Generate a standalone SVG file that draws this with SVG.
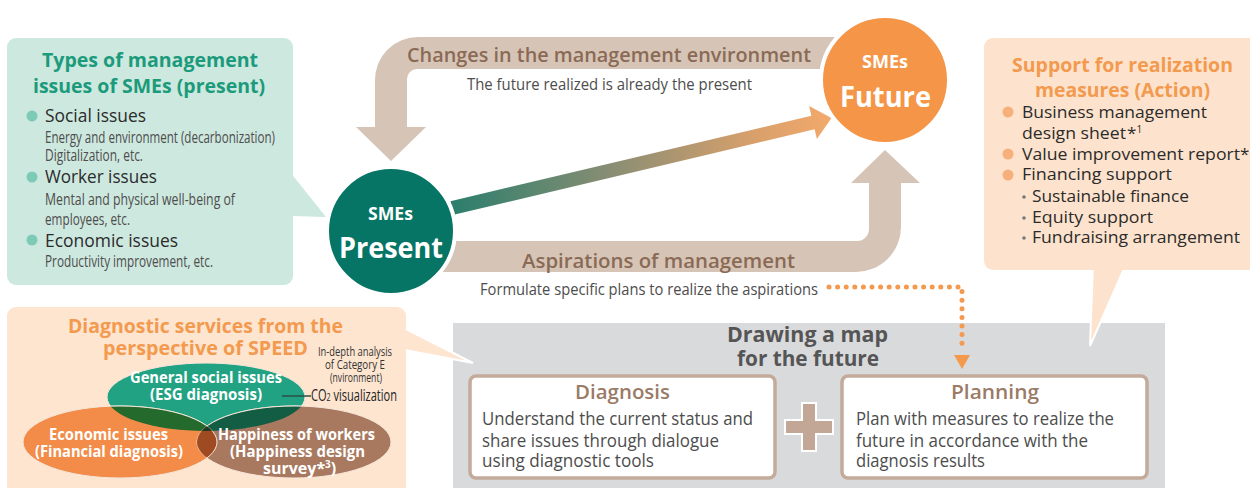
<svg xmlns="http://www.w3.org/2000/svg" width="1250" height="488" viewBox="0 0 1250 488">
<style>
text{font-family:"Open Sans","Noto Sans",sans-serif}
.b{font-weight:700}
.sb{font-weight:600}
.gt{fill:#1b9b7b}
.ot{fill:#f39a4f}
.br{fill:#8a6a55}
.dk{fill:#2b2b2b}
.gy{fill:#4d4d4d}
.wt{fill:#fff}
</style>
<defs>
<linearGradient id="grad" x1="450" y1="0" x2="832" y2="0" gradientUnits="userSpaceOnUse">
<stop offset="0" stop-color="#2a7e6d"/>
<stop offset="0.45" stop-color="#8f8f73"/>
<stop offset="0.8" stop-color="#d9a06b"/>
<stop offset="1" stop-color="#f3a96b"/>
</linearGradient>
<clipPath id="cG"><ellipse cx="206" cy="397" rx="99" ry="34"/></clipPath>
<clipPath id="cB"><ellipse cx="294" cy="442" rx="97" ry="36"/></clipPath>
</defs>

<!-- Left issues box -->
<g id="box-issues">
<polygon points="290,172 326,217 290,216" fill="#cde8df"/>
<rect x="7" y="38" width="286" height="247" rx="9" fill="#cde8df"/>
<text class="b gt" x="42" y="67" font-size="20" textLength="216" lengthAdjust="spacingAndGlyphs">Types of management</text>
<text class="b gt" x="33" y="93" font-size="20" textLength="232" lengthAdjust="spacingAndGlyphs">issues of SMEs (present)</text>
<g fill="#7dcbb6"><circle cx="32" cy="116" r="5.5"/><circle cx="32" cy="177" r="5.5"/><circle cx="32" cy="240" r="5.5"/></g>
<text class="dk" x="45" y="122" font-size="17.5" textLength="101" lengthAdjust="spacingAndGlyphs">Social issues</text>
<text class="gy" x="45" y="143" font-size="16.5" textLength="230" lengthAdjust="spacingAndGlyphs">Energy and environment (decarbonization)</text>
<text class="gy" x="45" y="161" font-size="16.5" textLength="98" lengthAdjust="spacingAndGlyphs">Digitalization, etc.</text>
<text class="dk" x="45" y="183" font-size="17.5" textLength="112" lengthAdjust="spacingAndGlyphs">Worker issues</text>
<text class="gy" x="45" y="205" font-size="16.5" textLength="190" lengthAdjust="spacingAndGlyphs">Mental and physical well-being of</text>
<text class="gy" x="45" y="225" font-size="16.5" textLength="85" lengthAdjust="spacingAndGlyphs">employees, etc.</text>
<text class="dk" x="45" y="247" font-size="17.5" textLength="133" lengthAdjust="spacingAndGlyphs">Economic issues</text>
<text class="gy" x="45" y="267" font-size="16.5" textLength="168" lengthAdjust="spacingAndGlyphs">Productivity improvement, etc.</text>
</g>

<!-- Gray map box -->
<g id="box-map">
<rect x="453" y="323" width="712" height="165" fill="#d9dadc"/>
<text class="b" fill="#555" x="727" y="342" font-size="20.5" textLength="161" lengthAdjust="spacingAndGlyphs">Drawing a map</text>
<text class="b" fill="#555" x="737" y="366" font-size="20.5" textLength="142" lengthAdjust="spacingAndGlyphs">for the future</text>
</g>

<g id="node-diagnosis">
<rect x="470" y="376" width="305" height="102" rx="6" fill="#fff" stroke="#c4aa9a" stroke-width="3.5"/>
<text class="sb" fill="#9b7a66" x="575" y="399" font-size="19" textLength="95" lengthAdjust="spacingAndGlyphs">Diagnosis</text>
<text class="gy" x="482" y="425" font-size="18" textLength="271" lengthAdjust="spacingAndGlyphs">Understand the current status and</text>
<text class="gy" x="482" y="447" font-size="18" textLength="237" lengthAdjust="spacingAndGlyphs">share issues through dialogue</text>
<text class="gy" x="482" y="467" font-size="18" textLength="172" lengthAdjust="spacingAndGlyphs">using diagnostic tools</text>
</g>

<g id="plus">
<path d="M802 403 H816 V420 H833 V434 H816 V451 H802 V434 H785 V420 H802 Z" fill="#c2a796" stroke="#fff" stroke-width="2"/>
</g>

<g id="node-planning">
<rect x="842" y="376" width="305" height="102" rx="6" fill="#fff" stroke="#c4aa9a" stroke-width="3.5"/>
<text class="sb" fill="#9b7a66" x="951" y="399" font-size="19" textLength="88" lengthAdjust="spacingAndGlyphs">Planning</text>
<text class="gy" x="856" y="425" font-size="18" textLength="258" lengthAdjust="spacingAndGlyphs">Plan with measures to realize the</text>
<text class="gy" x="856" y="447" font-size="18" textLength="232" lengthAdjust="spacingAndGlyphs">future in accordance with the</text>
<text class="gy" x="856" y="467" font-size="18" textLength="129" lengthAdjust="spacingAndGlyphs">diagnosis results</text>
</g>

<!-- Right support box -->
<g id="box-support">
<polygon points="1093,262 1127,262 1090,346" fill="#fde3cd" stroke="#fff" stroke-width="2"/>
<rect x="984" y="38" width="280" height="232" rx="9" fill="#fde3cd"/>
<text class="b ot" x="1012" y="72" font-size="19" textLength="221" lengthAdjust="spacingAndGlyphs">Support for realization</text>
<text class="b ot" x="1035" y="97" font-size="19" textLength="175" lengthAdjust="spacingAndGlyphs">measures (Action)</text>
<g fill="#f7b07c"><circle cx="1008" cy="112" r="5.5"/><circle cx="1008" cy="154" r="5.5"/><circle cx="1008" cy="175" r="5.5"/></g>
<g fill="#777"><circle cx="1024" cy="197" r="1.8"/><circle cx="1024" cy="218" r="1.8"/><circle cx="1024" cy="238" r="1.8"/></g>
<text class="dk" x="1022" y="118" font-size="17" textLength="185" lengthAdjust="spacingAndGlyphs">Business management</text>
<text class="dk" x="1022" y="139" font-size="17" textLength="104" lengthAdjust="spacingAndGlyphs">design sheet</text>
<text class="dk" x="1127" y="139" font-size="17">*<tspan font-size="10" dy="-6">1</tspan></text>
<text class="dk" x="1022" y="160" font-size="17" textLength="218" lengthAdjust="spacingAndGlyphs">Value improvement report</text>
<text class="dk" x="1240" y="160" font-size="17">*<tspan font-size="9" dy="-6">2</tspan></text>
<text class="dk" x="1022" y="180" font-size="17" textLength="150" lengthAdjust="spacingAndGlyphs">Financing support</text>
<text class="dk" x="1032" y="202" font-size="17" textLength="157" lengthAdjust="spacingAndGlyphs">Sustainable finance</text>
<text class="dk" x="1032" y="223" font-size="17" textLength="121" lengthAdjust="spacingAndGlyphs">Equity support</text>
<text class="dk" x="1032" y="243" font-size="17" textLength="208" lengthAdjust="spacingAndGlyphs">Fundraising arrangement</text>
</g>

<!-- Bottom-left diagnostic services box -->
<g id="box-diagnostic">
<polygon points="400,326 473,363 400,349" fill="#fde5d0" stroke="#fff" stroke-width="2"/>
<rect x="7" y="307" width="399" height="195" rx="9" fill="#fde5d0"/>
<text class="b ot" x="68" y="333" font-size="19" textLength="275" lengthAdjust="spacingAndGlyphs">Diagnostic services from the</text>
<text class="b ot" x="103" y="355" font-size="19" textLength="205" lengthAdjust="spacingAndGlyphs">perspective of SPEED</text>
<g stroke="#f6e6da" stroke-width="1">
<ellipse cx="206" cy="397" rx="99" ry="34" fill="#21a383"/>
<ellipse cx="120" cy="442" rx="97" ry="36" fill="#f28c48"/>
<ellipse cx="294" cy="442" rx="97" ry="36" fill="#a8795f"/>
</g>
<ellipse cx="120" cy="442" rx="97" ry="36" fill="#236a2c" clip-path="url(#cG)" stroke="#f6e6da" stroke-width="1"/>
<ellipse cx="294" cy="442" rx="97" ry="36" fill="#135d44" clip-path="url(#cG)" stroke="#f6e6da" stroke-width="1"/>
<ellipse cx="120" cy="442" rx="97" ry="36" fill="#9f4a20" clip-path="url(#cB)" stroke="#f6e6da" stroke-width="1"/>
<g clip-path="url(#cG)"><ellipse cx="120" cy="442" rx="97" ry="36" fill="#1c3b22" clip-path="url(#cB)"/></g>
<text class="b wt" x="130" y="383" font-size="16" textLength="152" lengthAdjust="spacingAndGlyphs">General social issues</text>
<text class="b wt" x="150" y="400" font-size="16" textLength="112" lengthAdjust="spacingAndGlyphs">(ESG diagnosis)</text>
<text class="b wt" x="49" y="440" font-size="16" textLength="119" lengthAdjust="spacingAndGlyphs">Economic issues</text>
<text class="b wt" x="35" y="457" font-size="16" textLength="148" lengthAdjust="spacingAndGlyphs">(Financial diagnosis)</text>
<text class="b wt" x="218" y="440" font-size="16" textLength="157" lengthAdjust="spacingAndGlyphs">Happiness of workers</text>
<text class="b wt" x="230" y="457" font-size="16" textLength="135" lengthAdjust="spacingAndGlyphs">(Happiness design</text>
<text class="b wt" x="263" y="474" font-size="16">survey*<tspan font-size="10" dy="-6">3</tspan><tspan dy="6">)</tspan></text>
<text fill="#333" x="318" y="356" font-size="12" textLength="74" lengthAdjust="spacingAndGlyphs">In-depth analysis</text>
<text fill="#333" x="325" y="369" font-size="12" textLength="60" lengthAdjust="spacingAndGlyphs">of Category E</text>
<text fill="#333" x="330" y="382" font-size="12" textLength="52" lengthAdjust="spacingAndGlyphs">(nvironment)</text>
<line x1="282" y1="396" x2="311" y2="396" stroke="#2a4f47" stroke-width="1.5"/>
<text fill="#222" x="311" y="401" font-size="15.5" textLength="86" lengthAdjust="spacingAndGlyphs">CO<tspan font-size="10">2</tspan> visualization</text>
</g>

<!-- Connectors -->
<g id="connectors">
<path d="M862 37 L418 37 A43 43 0 0 0 375 80 L375 127 L356 127 L391 161 L426 127 L407 127 L407 79 A10 10 0 0 1 417 69 L862 69 Z" fill="#d6c5b6"/>
<path d="M420 241 L857 241 A12 12 0 0 0 869 229 L869 183 L851 183 L885 150 L920 183 L901 183 L901 227 A45 45 0 0 1 856 272 L420 272 Z" fill="#d6c5b6"/>
<polygon points="450.4,201.2 811.4,115.7 809.1,106 831.5,118.1 816.9,139 814.6,129.3 453.6,214.8" fill="url(#grad)"/>
<path d="M829 287 H962 V350" fill="none" stroke="#f39a4f" stroke-width="5" stroke-linecap="round" stroke-dasharray="0 8.6"/>
<polygon points="954,355 970,355 962,369" fill="#f39a4f"/>
<text class="sb br" x="407" y="62" font-size="20.5" textLength="404" lengthAdjust="spacingAndGlyphs">Changes in the management environment</text>
<text class="gy" x="467" y="90" font-size="16.5" textLength="285" lengthAdjust="spacingAndGlyphs">The future realized is already the present</text>
<text class="sb br" x="522" y="268" font-size="20.5" textLength="273" lengthAdjust="spacingAndGlyphs">Aspirations of management</text>
<text class="gy" x="480" y="295" font-size="16.5" textLength="338" lengthAdjust="spacingAndGlyphs">Formulate specific plans to realize the aspirations</text>
</g>

<g id="node-present">
<circle cx="391" cy="231" r="64" fill="#067565" stroke="#fff" stroke-width="4"/>
<text class="b wt" x="368" y="220" font-size="17" textLength="45" lengthAdjust="spacingAndGlyphs">SMEs</text>
<text class="b wt" x="339" y="258" font-size="28" textLength="104" lengthAdjust="spacingAndGlyphs">Present</text>
</g>

<g id="node-future">
<circle cx="885" cy="80" r="64" fill="#f59547" stroke="#fff" stroke-width="4"/>
<text class="b wt" x="862" y="68" font-size="17" textLength="46" lengthAdjust="spacingAndGlyphs">SMEs</text>
<text class="b wt" x="840" y="107" font-size="28" textLength="91" lengthAdjust="spacingAndGlyphs">Future</text>
</g>
</svg>
